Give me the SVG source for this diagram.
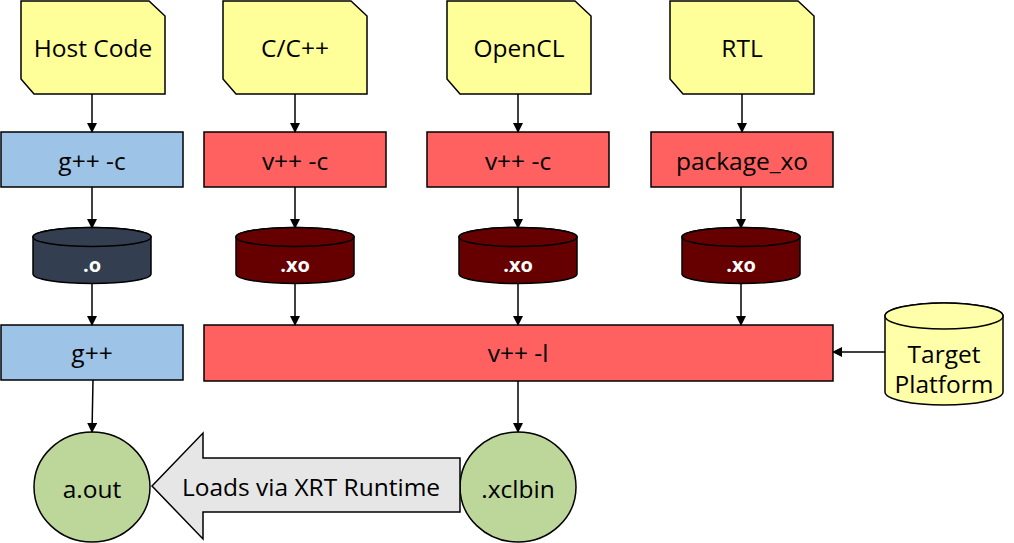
<svg xmlns="http://www.w3.org/2000/svg" width="1014" height="543" viewBox="0 0 1014 543">
<defs>
<marker id="ah" markerWidth="10" markerHeight="10" refX="9" refY="5" orient="auto" markerUnits="userSpaceOnUse">
<path d="M0,0 L10,5 L0,10 Z" fill="#000"/>
</marker>
<style>
.t{font-family:"Open Sans","Liberation Sans",sans-serif;font-size:24.5px;fill:#000;text-anchor:middle;dominant-baseline:central}
.tw{font-family:"Open Sans","Liberation Sans",sans-serif;font-size:20px;font-weight:bold;fill:#fff;text-anchor:middle;dominant-baseline:central}
.doc{fill:#FFFF99;stroke:#000;stroke-width:1.5}
.blue{fill:#9DC3E6;stroke:#000;stroke-width:1.5}
.red{fill:#FF6161;stroke:#000;stroke-width:1.5}
.navy{fill:#333F50;stroke:#000;stroke-width:1.5}
.dred{fill:#660000;stroke:#000;stroke-width:1.5}
.green{fill:#BDD699;stroke:#000;stroke-width:1.5}
.yel{fill:#FFFFAA;stroke:#000;stroke-width:1.5}
.c{stroke:#000;stroke-width:1.5;fill:none;marker-end:url(#ah)}
</style>
</defs>
<rect width="1014" height="543" fill="#fff"/>
<g id="host-code"><path class="doc" d="M21,1 H149 L165,16 V94 H34 L21,79 Z"/><text class="t" x="93" y="47">Host Code</text></g>
<g id="cpp"><path class="doc" d="M223,1 H351 L367,16 V94 H236 L223,79 Z"/><text class="t" x="295" y="47">C/C++</text></g>
<g id="opencl"><path class="doc" d="M447,1 H575 L591,16 V94 H460 L447,79 Z"/><text class="t" x="519" y="47">OpenCL</text></g>
<g id="rtl"><path class="doc" d="M670,1 H798 L814,16 V94 H683 L670,79 Z"/><text class="t" x="742" y="47">RTL</text></g>
<g id="gppc"><rect class="blue" x="1" y="132" width="182" height="55"/><text class="t" x="92" y="160">g++ -c</text></g>
<g id="vppc1"><rect class="red" x="204" y="132" width="182" height="55"/><text class="t" x="295" y="160">v++ -c</text></g>
<g id="vppc2"><rect class="red" x="427" y="132" width="182" height="55"/><text class="t" x="518" y="160">v++ -c</text></g>
<g id="pkgxo"><rect class="red" x="651" y="132" width="182" height="55"/><text class="t" x="742" y="160">package_xo</text></g>
<g id="obj"><path class="navy" d="M33,237 A59,9.5 0 0 1 151,237 V274 A59,9.5 0 0 1 33,274 Z"/><ellipse class="navy" cx="92" cy="237" rx="59" ry="9.5"/><text class="tw" x="92" y="264">.o</text></g>
<g id="xo1"><path class="dred" d="M236,237 A59,9.5 0 0 1 354,237 V274 A59,9.5 0 0 1 236,274 Z"/><ellipse class="dred" cx="295" cy="237" rx="59" ry="9.5"/><text class="tw" x="295" y="264">.xo</text></g>
<g id="xo2"><path class="dred" d="M459,237 A59,9.5 0 0 1 577,237 V274 A59,9.5 0 0 1 459,274 Z"/><ellipse class="dred" cx="518" cy="237" rx="59" ry="9.5"/><text class="tw" x="518" y="264">.xo</text></g>
<g id="xo3"><path class="dred" d="M682,237 A59,9.5 0 0 1 800,237 V274 A59,9.5 0 0 1 682,274 Z"/><ellipse class="dred" cx="741" cy="237" rx="59" ry="9.5"/><text class="tw" x="741" y="264">.xo</text></g>
<g id="gpp"><rect class="blue" x="1" y="325" width="182" height="55"/><text class="t" x="92" y="352">g++</text></g>
<g id="vppl"><rect class="red" x="204" y="325" width="629" height="56"/><text class="t" x="518" y="352">v++ -l</text></g>
<g id="target"><path class="yel" d="M885,316 A59,13 0 0 1 1003,316 V392 A59,13 0 0 1 885,392 Z"/><ellipse class="yel" cx="944" cy="316" rx="59" ry="13"/><text class="t" x="944" y="353">Target</text><text class="t" x="944" y="383">Platform</text></g>
<g id="aout"><ellipse class="green" cx="92" cy="487" rx="58" ry="55"/><text class="t" x="92" y="488">a.out</text></g>
<g id="xclbin"><ellipse class="green" cx="518" cy="487" rx="58" ry="55"/><text class="t" x="518" y="488">.xclbin</text></g>
<g id="loads"><path d="M460,458 H203 V433 L152,486 L203,539 V512 H460 Z" fill="#E7E6E6" stroke="#000" stroke-width="1.5"/><text class="t" x="311" y="486">Loads via XRT Runtime</text></g>
<g id="connectors">
<line class="c" x1="92" y1="94" x2="92" y2="132"/>
<line class="c" x1="295" y1="94" x2="295" y2="132"/>
<line class="c" x1="518" y1="94" x2="518" y2="132"/>
<line class="c" x1="742" y1="94" x2="742" y2="132"/>
<line class="c" x1="92" y1="187" x2="92" y2="228"/>
<line class="c" x1="295" y1="187" x2="295" y2="228"/>
<line class="c" x1="518" y1="187" x2="518" y2="228"/>
<line class="c" x1="741" y1="187" x2="741" y2="228"/>
<line class="c" x1="92" y1="283" x2="92" y2="325"/>
<line class="c" x1="295" y1="283" x2="295" y2="325"/>
<line class="c" x1="518" y1="283" x2="518" y2="325"/>
<line class="c" x1="741" y1="283" x2="741" y2="325"/>
<line class="c" x1="885" y1="352" x2="833" y2="352"/>
<line class="c" x1="93" y1="380" x2="92" y2="432"/>
<line class="c" x1="518" y1="381" x2="518" y2="432"/>
</g>
</svg>
